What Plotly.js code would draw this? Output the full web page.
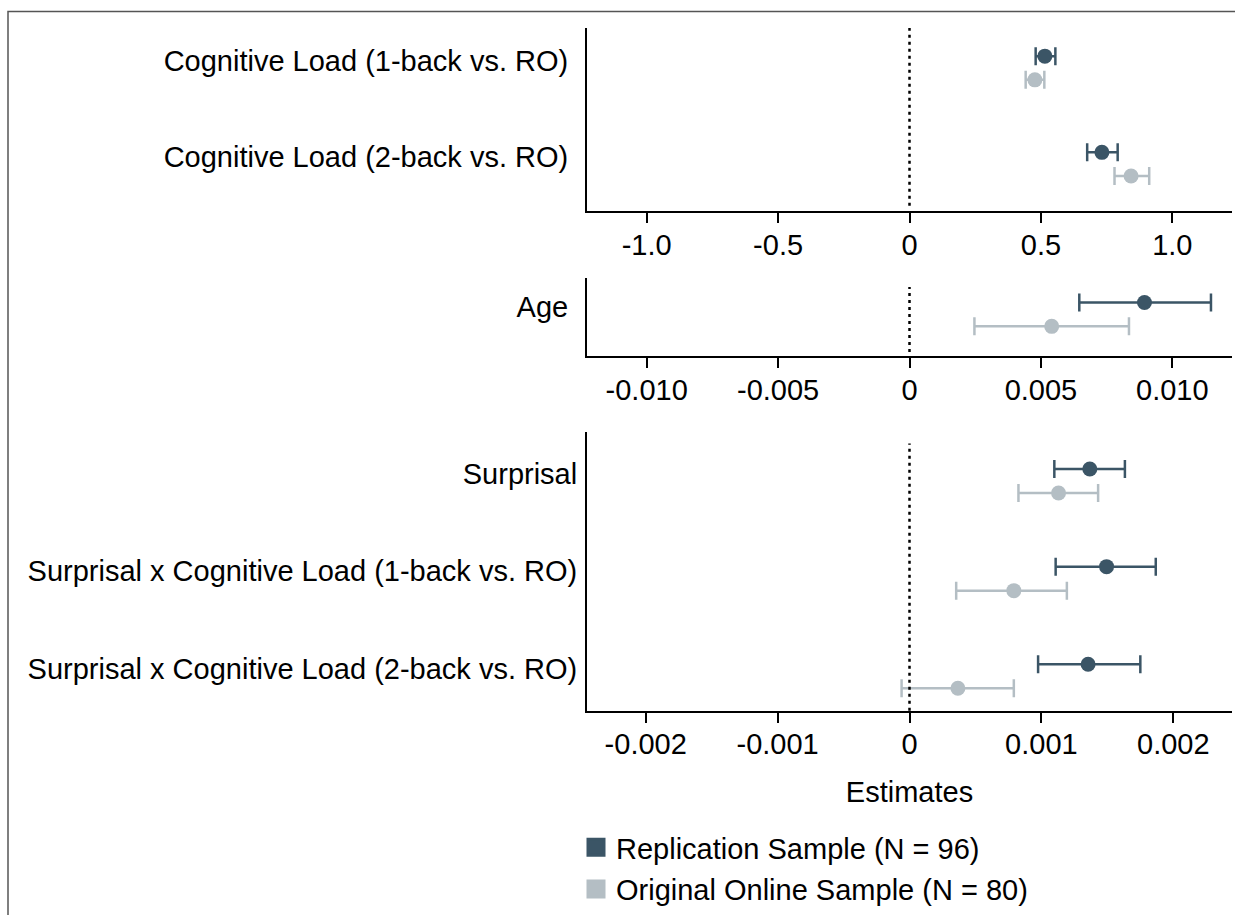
<!DOCTYPE html>
<html>
<head>
<meta charset="utf-8">
<script src="https://cdn.plot.ly/plotly-3.0.1.min.js"></script>
<style>html,body{margin:0;padding:0;background:#fff;}#chart{width:1235px;height:915px;}</style>
</head>
<body>
<div id="chart"></div>
<script>
// ---- Data ----
const categoriesLoad = ['Cognitive Load (1-back vs. RO)', 'Cognitive Load (2-back vs. RO)'];
const categoriesAge = ['Age'];
const categoriesSurprisal = ['Surprisal', 'Surprisal x Cognitive Load (1-back vs. RO)', 'Surprisal x Cognitive Load (2-back vs. RO)'];

const seriesNames = ['Replication Sample (N = 96)', 'Original Online Sample (N = 80)'];

const repLoadEst = [0.515, 0.732];
const repLoadLo  = [0.480, 0.676];
const repLoadHi  = [0.555, 0.792];
const origLoadEst = [0.477, 0.843];
const origLoadLo  = [0.442, 0.780];
const origLoadHi  = [0.513, 0.912];

const repAgeEst = [0.00894];
const repAgeLo  = [0.00646];
const repAgeHi  = [0.01147];
const origAgeEst = [0.00541];
const origAgeLo  = [0.00247];
const origAgeHi  = [0.00835];

const repSurpEst = [0.001367, 0.001494, 0.001354];
const repSurpLo  = [0.001098, 0.001108, 0.000975];
const repSurpHi  = [0.001633, 0.001867, 0.001750];
const origSurpEst = [0.001130, 0.000791, 0.000367];
const origSurpLo  = [0.000826, 0.000354, -0.000060];
const origSurpHi  = [0.001430, 0.001193, 0.000791];

const tickValsLoad = [-1, -0.5, 0, 0.5, 1];
const tickTextLoad = ['-1.0', '-0.5', '0', '0.5', '1.0'];
const tickValsAge = [-0.01, -0.005, 0, 0.005, 0.01];
const tickTextAge = ['-0.010', '-0.005', '0', '0.005', '0.010'];
const tickValsSurp = [-0.002, -0.001, 0, 0.001, 0.002];
const tickTextSurp = ['-0.002', '-0.001', '0', '0.001', '0.002'];

// ---- Styles ----
const W = 1235, H = 915;
const repColor = '#3B5566';
const origColor = '#B4BEC4';
const FONT = '"Liberation Sans", Arial, Helvetica, sans-serif';
const FS = 29;
const repOffset = -0.046, origOffset = 0.2;

function px(v, total) { return v / total; }

function pointTrace(cats, est, lo, hi, color, offset, xa, ya) {
  return {
    type: 'scatter', mode: 'markers',
    x: est,
    y: cats.map((c, i) => i + offset),
    xaxis: xa, yaxis: ya,
    showlegend: false,
    hoverinfo: 'x',
    marker: {color: color, size: 15, line: {width: 0}},
    error_x: {
      type: 'data', symmetric: false,
      array: est.map((e, i) => hi[i] - e),
      arrayminus: est.map((e, i) => e - lo[i]),
      color: color, thickness: 2.5, width: 9
    }
  };
}

const traces = [
  pointTrace(categoriesLoad, repLoadEst, repLoadLo, repLoadHi, repColor, repOffset, 'x', 'y'),
  pointTrace(categoriesLoad, origLoadEst, origLoadLo, origLoadHi, origColor, origOffset, 'x', 'y'),
  pointTrace(categoriesAge, repAgeEst, repAgeLo, repAgeHi, repColor, repOffset, 'x2', 'y2'),
  pointTrace(categoriesAge, origAgeEst, origAgeLo, origAgeHi, origColor, origOffset, 'x2', 'y2'),
  pointTrace(categoriesSurprisal, repSurpEst, repSurpLo, repSurpHi, repColor, repOffset, 'x3', 'y3'),
  pointTrace(categoriesSurprisal, origSurpEst, origSurpLo, origSurpHi, origColor, origOffset, 'x3', 'y3'),
  {type: 'scatter', mode: 'markers', x: [null], y: [null], xaxis: 'x3', yaxis: 'y3',
   name: seriesNames[0], legendgroup: 'rep', showlegend: true,
   marker: {symbol: 'square', size: 16, color: repColor, line: {width: 3, color: repColor}}},
  {type: 'scatter', mode: 'markers', x: [null], y: [null], xaxis: 'x3', yaxis: 'y3',
   name: seriesNames[1], legendgroup: 'orig', showlegend: true,
   marker: {symbol: 'square', size: 16, color: origColor, line: {width: 3, color: origColor}}}
];

const xDomain = [px(587, W), px(1232, W)];
function xAxis(range, vals, text, anchor, extra) {
  return Object.assign({
    domain: xDomain, anchor: anchor, range: range,
    tickmode: 'array', tickvals: vals, ticktext: text,
    showline: true, linecolor: '#000', linewidth: 2,
    ticks: 'outside', ticklen: 10, tickwidth: 2, tickcolor: '#000',
    ticklabelstandoff: -3,
    showgrid: false, zeroline: false,
    tickfont: {size: FS, color: '#000', family: FONT},
    fixedrange: true
  }, extra || {});
}
function yAxis(top, bottom, cats, anchor, standoff) {
  return {
    domain: [1 - bottom / H, 1 - top / H], anchor: anchor,
    tickmode: 'array', tickvals: cats.map((c, i) => i), ticktext: cats,
    showline: true, linecolor: '#000', linewidth: 2,
    ticks: '', showgrid: false, zeroline: false,
    ticklabelstandoff: standoff,
    tickfont: {size: FS, color: '#000', family: FONT},
    fixedrange: true
  };
}

const yA1 = yAxis(28, 212, categoriesLoad, 'x', 11);
yA1.range = [1.567, -0.340];
const yA2 = yAxis(279, 357, categoriesAge, 'x2', 11);
yA2.range = [0.505, -0.299];
const yA3 = yAxis(433, 713, categoriesSurprisal, 'x3', 2);
yA3.range = [2.429, -0.429];

const layout = {
  width: W, height: H,
  margin: {l: 0, r: 0, t: 0, b: 0, pad: 0},
  paper_bgcolor: '#fff', plot_bgcolor: '#fff',
  font: {family: FONT, size: FS, color: '#000'},
  showlegend: true,
  xaxis: xAxis([-1.227, 1.227], tickValsLoad, tickTextLoad, 'y'),
  xaxis2: xAxis([-0.01227, 0.01227], tickValsAge, tickTextAge, 'y2'),
  xaxis3: xAxis([-0.002445, 0.002445], tickValsSurp, tickTextSurp, 'y3',
    {title: {text: 'Estimates', font: {size: FS, color: '#000', family: FONT}, standoff: 22}}),
  yaxis: yA1, yaxis2: yA2, yaxis3: yA3,
  legend: {
    x: px(576, W), xanchor: 'left', y: 1 - 825 / H, yanchor: 'top',
    font: {size: FS, color: '#000', family: FONT},
    traceorder: 'grouped', tracegroupgap: 1,
    bgcolor: 'rgba(0,0,0,0)', borderwidth: 0
  },
  shapes: [
    {type: 'line', xref: 'x', yref: 'y domain', x0: 0, x1: 0, y0: 0.03, y1: 1,
     line: {color: '#000', width: 2.5, dash: '3px,4px'}},
    {type: 'line', xref: 'x2', yref: 'y2 domain', x0: 0, x1: 0, y0: 0.05, y1: 0.885,
     line: {color: '#000', width: 2.5, dash: '3px,4px'}},
    {type: 'line', xref: 'x3', yref: 'y3 domain', x0: 0, x1: 0, y0: 0, y1: 0.957,
     line: {color: '#000', width: 2.5, dash: '3px,4px'}},
    {type: 'rect', xref: 'paper', yref: 'paper', x0: 8 / W, x1: 1.02, y0: -0.02, y1: 1 - 11.5 / H,
     line: {color: '#555', width: 1.5}, fillcolor: 'rgba(0,0,0,0)', layer: 'below'}
  ]
};

Plotly.newPlot('chart', traces, layout, {displayModeBar: false, staticPlot: true});
</script>
</body>
</html>
